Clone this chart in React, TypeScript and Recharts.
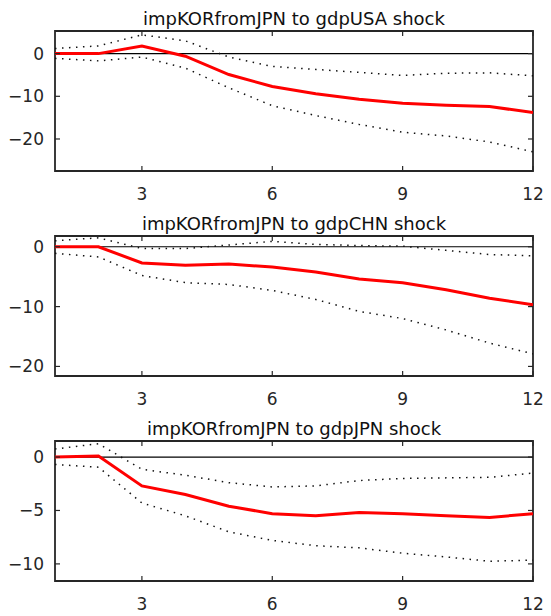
import React from 'react';
import { LineChart, Line, XAxis, YAxis, ReferenceLine, ReferenceArea } from 'recharts';

// impulse horizon (periods)
const horizon = [1, 2, 3, 4, 5, 6, 7, 8, 9, 10, 11, 12];
const xTicks = [3, 6, 9, 12];

// response to gdpUSA shock
const usaMedian = [0, 0, 1.8, -0.6, -4.9, -7.7, -9.4, -10.7, -11.6, -12.1, -12.4, -13.8];
const usaUpper = [1.2, 1.8, 4.4, 3.0, -0.8, -3.0, -3.7, -4.4, -5.1, -4.6, -4.5, -5.2];
const usaLower = [-1.1, -1.7, -0.8, -3.4, -8.0, -12.2, -14.5, -16.6, -18.4, -19.3, -20.7, -23.0];

// response to gdpCHN shock
const chnMedian = [0, 0, -2.7, -3.1, -2.9, -3.4, -4.2, -5.4, -6.0, -7.2, -8.6, -9.7];
const chnUpper = [1.0, 1.5, -0.3, -0.3, 0.3, 0.9, 0.4, 0.2, 0.1, -0.6, -1.3, -1.5];
const chnLower = [-1.1, -1.7, -4.8, -6.0, -6.3, -7.3, -8.8, -10.8, -12.0, -13.9, -16.1, -17.9];

// response to gdpJPN shock
const jpnMedian = [0, 0.1, -2.7, -3.5, -4.6, -5.3, -5.5, -5.2, -5.3, -5.5, -5.65, -5.3];
const jpnUpper = [0.75, 1.25, -1.15, -1.7, -2.4, -2.8, -2.7, -2.2, -2.0, -1.95, -1.9, -1.5];
const jpnLower = [-0.7, -0.95, -4.3, -5.5, -7.0, -7.8, -8.3, -8.5, -9.0, -9.35, -9.75, -9.65];

const PLOT_W = 478;
const PLOT_H = 140;
const TICK_LEN = 5;
const X_MARGIN = 23;
const Y_MARGIN = 11;
const AXIS_COLOR = '#262626';
const FONT = '"DejaVu Sans", sans-serif';

const fmt = (v: number) => (v < 0 ? '\u2212' + Math.abs(v) : String(v));

// bottom labels plus inward ticks on the bottom and top edges
const XTick = (props: any) => {
  const { x, y, payload } = props;
  const base = y - X_MARGIN;
  return (
    <g>
      <line x1={x} x2={x} y1={base} y2={base - TICK_LEN} stroke={AXIS_COLOR} strokeWidth={1.2} />
      <line x1={x} x2={x} y1={base - PLOT_H} y2={base - PLOT_H + TICK_LEN} stroke={AXIS_COLOR} strokeWidth={1.2} />
      <text x={x} y={y} textAnchor="middle" dominantBaseline="central" fontSize={17} fill={AXIS_COLOR} fontFamily={FONT}>
        {fmt(payload.value)}
      </text>
    </g>
  );
};

// left labels plus inward ticks on the left and right edges
const YTick = (props: any) => {
  const { x, y, payload } = props;
  const base = x + Y_MARGIN;
  return (
    <g>
      <line x1={base} x2={base + TICK_LEN} y1={y} y2={y} stroke={AXIS_COLOR} strokeWidth={1.2} />
      <line x1={base + PLOT_W} x2={base + PLOT_W - TICK_LEN} y1={y} y2={y} stroke={AXIS_COLOR} strokeWidth={1.2} />
      <text x={x} y={y} textAnchor="end" dominantBaseline="central" fontSize={17} fill={AXIS_COLOR} fontFamily={FONT}>
        {fmt(payload.value)}
      </text>
    </g>
  );
};

type PanelProps = {
  title: string;
  median: number[];
  upper: number[];
  lower: number[];
  domain: [number, number];
  yTicks: number[];
  top: number;
};

const Panel = ({ title, median, upper, lower, domain, yTicks, top }: PanelProps) => {
  const data = horizon.map((h, i) => ({ h, median: median[i], upper: upper[i], lower: lower[i] }));
  return (
    <div style={{ position: 'absolute', left: 0, top, width: 551, height: 205 }}>
      <div
        style={{
          position: 'absolute',
          left: 55,
          top: 10,
          width: PLOT_W,
          textAlign: 'center',
          fontFamily: FONT,
          fontSize: 18,
          lineHeight: '18px',
          color: '#111',
          whiteSpace: 'nowrap',
        }}
      >
        {title}
      </div>
      <LineChart width={551} height={205} data={data} margin={{ top: 31, right: 18, bottom: 0, left: 0 }}>
        <XAxis
          dataKey="h"
          type="number"
          domain={[1, 12]}
          ticks={xTicks}
          interval={0}
          height={34}
          axisLine={false}
          tickLine={false}
          tickSize={0}
          tickMargin={X_MARGIN}
          tick={<XTick />}
          allowDataOverflow
        />
        <YAxis
          type="number"
          domain={domain}
          ticks={yTicks}
          interval={0}
          width={55}
          axisLine={false}
          tickLine={false}
          tickSize={0}
          tickMargin={Y_MARGIN}
          tick={<YTick />}
          allowDataOverflow
        />
        <ReferenceLine y={0} stroke="#000" strokeWidth={1.2} />
        <Line
          type="linear"
          dataKey="upper"
          stroke="#111"
          strokeWidth={1.5}
          strokeDasharray="1.5 5.5"
          dot={false}
          activeDot={false}
          isAnimationActive={false}
        />
        <Line
          type="linear"
          dataKey="lower"
          stroke="#111"
          strokeWidth={1.5}
          strokeDasharray="1.5 5.5"
          dot={false}
          activeDot={false}
          isAnimationActive={false}
        />
        <Line
          type="linear"
          dataKey="median"
          stroke="#ff0000"
          strokeWidth={3}
          dot={false}
          activeDot={false}
          isAnimationActive={false}
        />
        <ReferenceArea
          x1={1}
          x2={12}
          y1={domain[0]}
          y2={domain[1]}
          fill="none"
          fillOpacity={0}
          stroke={AXIS_COLOR}
          strokeWidth={1.8}
        />
      </LineChart>
    </div>
  );
};

export default function App() {
  return (
    <div style={{ position: 'absolute', left: 0, top: 0, width: 551, height: 616, background: '#fff' }}>
      <Panel
        title="impKORfromJPN to gdpUSA shock"
        median={usaMedian}
        upper={usaUpper}
        lower={usaLower}
        domain={[-27.5, 5.3]}
        yTicks={[-20, -10, 0]}
        top={0}
      />
      <Panel
        title="impKORfromJPN to gdpCHN shock"
        median={chnMedian}
        upper={chnUpper}
        lower={chnLower}
        domain={[-21.6, 1.8]}
        yTicks={[-20, -10, 0]}
        top={205}
      />
      <Panel
        title="impKORfromJPN to gdpJPN shock"
        median={jpnMedian}
        upper={jpnUpper}
        lower={jpnLower}
        domain={[-11.6, 1.5]}
        yTicks={[-10, -5, 0]}
        top={410}
      />
    </div>
  );
}
